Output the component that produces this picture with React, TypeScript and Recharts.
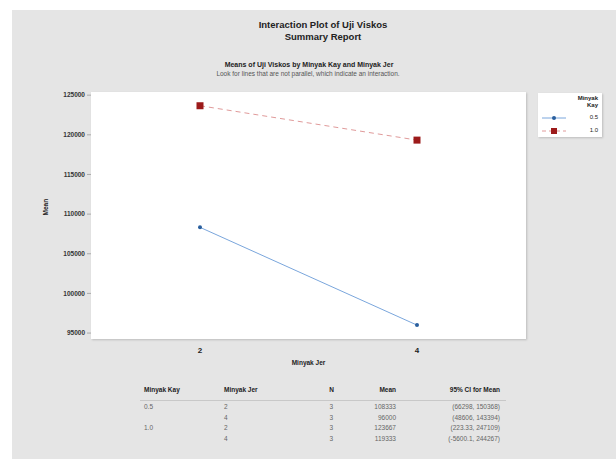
import React from "react";
import { LineChart, Line, XAxis, YAxis } from "recharts";

const jerLevels = ["2", "4"];
const kay05Means = [108333, 96000];
const kay10Means = [123667, 119333];
const yTicks = [95000, 100000, 105000, 110000, 115000, 120000, 125000];

const tableKay = ["0.5", "", "1.0", ""];
const tableJer = ["2", "4", "2", "4"];
const tableN = ["3", "3", "3", "3"];
const tableMean = ["108333", "96000", "123667", "119333"];
const tableCI = ["(66298, 150368)", "(48606, 143394)", "(223.33, 247109)", "(-5600.1, 244267)"];

const data = jerLevels.map((jer, i) => ({ jer, k05: kay05Means[i], k10: kay10Means[i] }));

const FONT = "'Liberation Sans', Arial, sans-serif";
const BLUE_LINE = "#7aa6dc";
const BLUE_DOT = "#2a5f9e";
const RED_LINE = "#e09a9a";
const RED_DOT = "#9c1a1a";

function SquareDot(props: any) {
  const { cx, cy, index } = props;
  if (cx == null || cy == null) return null;
  return <rect key={"sq" + index} x={cx - 3.5} y={cy - 3.5} width={7} height={7} fill={RED_DOT} />;
}

function Legend() {
  return (
    <div
      style={{
        position: "absolute",
        left: 538,
        top: 93,
        width: 64,
        height: 44,
        background: "#fff",
        boxShadow: "1px 1px 2px rgba(0,0,0,0.18)",
        fontFamily: FONT,
        fontSize: 6,
        color: "#222",
      }}
    >
      <div style={{ position: "absolute", right: 4, top: 2, textAlign: "right", fontWeight: "bold", lineHeight: "7px" }}>
        Minyak
        <br />
        Kay
      </div>
      <svg style={{ position: "absolute", left: 0, top: 0 }} width={64} height={44}>
        <line x1={4} y1={25} x2={28} y2={25} stroke={BLUE_LINE} strokeWidth={1} />
        <circle cx={16} cy={25} r={2} fill={BLUE_DOT} />
        <line x1={4} y1={38} x2={28} y2={38} stroke={RED_LINE} strokeWidth={1} strokeDasharray="4 3" />
        <rect x={13} y={35} width={6} height={6} fill={RED_DOT} />
      </svg>
      <div style={{ position: "absolute", right: 4, top: 21 }}>0.5</div>
      <div style={{ position: "absolute", right: 4, top: 34 }}>1.0</div>
    </div>
  );
}

function SummaryTable() {
  const cell = (text: string, left: number, top: number, align: "left" | "right", bold = false) => (
    <div
      key={text + left + top}
      style={{
        position: "absolute",
        top,
        left: align === "left" ? left : undefined,
        right: align === "right" ? 616 - left : undefined,
        fontWeight: bold ? "bold" : "normal",
        color: bold ? "#222" : "#666",
        whiteSpace: "nowrap",
      }}
    >
      {text}
    </div>
  );
  const rowsTop = [403, 413.5, 424, 434.5];
  return (
    <div style={{ position: "absolute", left: 0, top: 0, width: 616, height: 459, fontFamily: FONT, fontSize: 6.5 }}>
      {cell("Minyak Kay", 144, 386, "left", true)}
      {cell("Minyak Jer", 224, 386, "left", true)}
      {cell("N", 334, 386, "right", true)}
      {cell("Mean", 396, 386, "right", true)}
      {cell("95% CI for Mean", 500, 386, "right", true)}
      <div style={{ position: "absolute", left: 140, top: 400, width: 366, height: 1, background: "#c8c8c8" }} />
      {rowsTop.map((t, i) => (
        <React.Fragment key={i}>
          {tableKay[i] && cell(tableKay[i], 144, t, "left")}
          {cell(tableJer[i], 224, t, "left")}
          {cell(tableN[i], 333, t, "right")}
          {cell(tableMean[i], 396, t, "right")}
          {cell(tableCI[i], 500, t, "right")}
        </React.Fragment>
      ))}
    </div>
  );
}

export default function App() {
  return (
    <div
      style={{
        position: "fixed",
        left: 0,
        top: 0,
        width: 616,
        height: 459,
        background: "#fff",
        overflow: "hidden",
        fontFamily: FONT,
      }}
    >
      <div style={{ position: "absolute", left: 12, top: 10, width: 604, height: 449, background: "#e5e5e5" }} />
      <div
        style={{
          position: "absolute",
          left: 0,
          top: 19,
          width: 646,
          textAlign: "center",
          fontSize: 9.5,
          fontWeight: "bold",
          color: "#222",
          lineHeight: "12px",
        }}
      >
        Interaction Plot of Uji Viskos
        <br />
        Summary Report
      </div>
      <div
        style={{
          position: "absolute",
          left: 0,
          top: 61,
          width: 618,
          textAlign: "center",
          fontSize: 7,
          fontWeight: "bold",
          color: "#222",
        }}
      >
        Means of Uji Viskos by Minyak Kay and Minyak Jer
      </div>
      <div
        style={{
          position: "absolute",
          left: 0,
          top: 70,
          width: 616,
          textAlign: "center",
          fontSize: 6.5,
          color: "#555",
        }}
      >
        Look for lines that are not parallel, which indicate an interaction.
      </div>
      <div
        style={{
          position: "absolute",
          left: 91,
          top: 92,
          width: 435,
          height: 247,
          background: "#fff",
          boxShadow: "1px 1px 2px rgba(0,0,0,0.18)",
        }}
      />
      <div style={{ position: "absolute", left: 0, top: 0 }}>
        <LineChart width={616} height={459} data={data} margin={{ top: 92, right: 90, bottom: 90, left: 0 }}>
          <XAxis
            dataKey="jer"
            axisLine={false}
            tickLine={false}
            padding={{ left: 109, right: 109 }}
            tick={{ fontSize: 8, fontWeight: "bold", fill: "#222", fontFamily: FONT }}
            tickMargin={2}
            height={30}
            label={{ value: "Minyak Jer", position: "insideBottom", offset: 4, fontSize: 6.5, fontWeight: "bold", fill: "#222" }}
          />
          <YAxis
            width={91}
            domain={[94250, 125400]}
            ticks={yTicks}
            axisLine={false}
            tickSize={4}
            tickLine={{ stroke: "#aaa" }}
            interval={0}
            tick={{ fontSize: 6.5, fontWeight: "bold", fill: "#333", fontFamily: FONT }}
            label={{ value: "Mean", angle: -90, position: "insideLeft", offset: 46, fontSize: 6.5, fontWeight: "bold", fill: "#222" }}
          />
          <Line
            dataKey="k05"
            stroke={BLUE_LINE}
            strokeWidth={1}
            isAnimationActive={false}
            dot={{ r: 2, fill: BLUE_DOT, stroke: BLUE_DOT, strokeWidth: 0 }}
            activeDot={false}
          />
          <Line
            dataKey="k10"
            stroke={RED_LINE}
            strokeWidth={1}
            strokeDasharray="5 4"
            isAnimationActive={false}
            dot={<SquareDot />}
            activeDot={false}
          />
        </LineChart>
      </div>
      <Legend />
      <SummaryTable />
    </div>
  );
}
